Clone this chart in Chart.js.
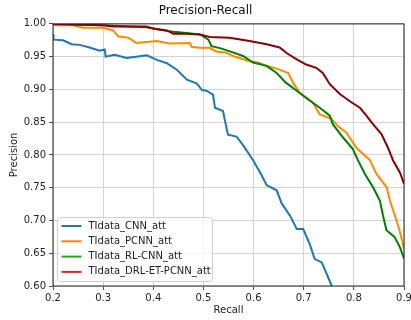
<!DOCTYPE html>
<html>
<head>
<meta charset="utf-8">
<script src="https://cdn.jsdelivr.net/npm/chart.js@4"></script>
<style>
  html, body { margin: 0; padding: 0; background: #fff; }
  #wrap { width: 411px; height: 320px; }
</style>
</head>
<body>
<div id="wrap"><canvas id="myChart" width="411" height="320"></canvas></div>
<script>
// series labels
const labels = ['TIdata_CNN_att', 'TIdata_PCNN_att', 'TIdata_RL-CNN_att', 'TIdata_DRL-ET-PCNN_att'];

// recall / precision
const cnnRecall = [0.2, 0.201, 0.22, 0.237, 0.253, 0.273, 0.293, 0.303, 0.305, 0.323, 0.347, 0.387, 0.407, 0.427, 0.447, 0.467, 0.487, 0.497, 0.506, 0.519, 0.523, 0.539, 0.546, 0.549, 0.566, 0.579, 0.599, 0.616, 0.626, 0.646, 0.656, 0.673, 0.686, 0.699, 0.712, 0.722, 0.736, 0.756];
const cnnPrecision = [0.984, 0.976, 0.975, 0.969, 0.968, 0.964, 0.959, 0.961, 0.950, 0.953, 0.948, 0.952, 0.945, 0.940, 0.930, 0.915, 0.909, 0.899, 0.898, 0.892, 0.872, 0.867, 0.841, 0.831, 0.828, 0.815, 0.792, 0.769, 0.754, 0.746, 0.726, 0.707, 0.687, 0.687, 0.664, 0.641, 0.636, 0.600];

const pcnnRecall = [0.2, 0.24, 0.26, 0.30, 0.32, 0.33, 0.35, 0.366, 0.406, 0.433, 0.473, 0.476, 0.493, 0.512, 0.526, 0.546, 0.559, 0.592, 0.609, 0.626, 0.649, 0.669, 0.679, 0.692, 0.718, 0.732, 0.755, 0.768, 0.785, 0.805, 0.832, 0.845, 0.865, 0.872, 0.885, 0.892, 0.90];
const pcnnPrecision = [0.998, 0.998, 0.994, 0.994, 0.990, 0.981, 0.979, 0.971, 0.974, 0.970, 0.971, 0.965, 0.9635, 0.9635, 0.958, 0.956, 0.951, 0.943, 0.941, 0.936, 0.931, 0.925, 0.910, 0.895, 0.880, 0.862, 0.855, 0.844, 0.834, 0.811, 0.792, 0.771, 0.751, 0.730, 0.700, 0.682, 0.657];

const rlRecall = [0.2, 0.24, 0.30, 0.386, 0.413, 0.44, 0.466, 0.493, 0.51, 0.516, 0.533, 0.553, 0.579, 0.599, 0.626, 0.646, 0.665, 0.686, 0.705, 0.732, 0.752, 0.758, 0.778, 0.798, 0.808, 0.822, 0.838, 0.852, 0.858, 0.865, 0.881, 0.892, 0.90];
const rlPrecision = [1.0, 0.999, 0.998, 0.995, 0.991, 0.988, 0.986, 0.984, 0.976, 0.966, 0.963, 0.958, 0.951, 0.941, 0.936, 0.925, 0.910, 0.898, 0.887, 0.872, 0.860, 0.847, 0.827, 0.809, 0.792, 0.771, 0.751, 0.730, 0.708, 0.685, 0.675, 0.659, 0.642];

const drlRecall = [0.2, 0.30, 0.32, 0.386, 0.40, 0.427, 0.44, 0.466, 0.493, 0.512, 0.552, 0.592, 0.626, 0.652, 0.665, 0.686, 0.705, 0.725, 0.738, 0.752, 0.772, 0.792, 0.812, 0.825, 0.838, 0.855, 0.868, 0.878, 0.892, 0.90];
const drlPrecision = [1.0, 0.998, 0.996, 0.996, 0.993, 0.990, 0.985, 0.985, 0.984, 0.980, 0.979, 0.974, 0.969, 0.964, 0.956, 0.946, 0.938, 0.933, 0.925, 0.908, 0.893, 0.882, 0.872, 0.860, 0.847, 0.832, 0.811, 0.792, 0.773, 0.756];

const lineColors = ['#1f77b4', '#ff8c00', '#008000', '#8b0000'];
const legendColors = ['#1f77b4', '#ff7f0e', '#2ca02c', '#d62728'];

const FONT = 'DejaVu Sans';

function toPoints(xs, ys) {
    return xs.map((x, i) => ({ x: x, y: ys[i] }));
}

// legend box in the lower left of the plot, like matplotlib's loc='lower left'
const boxLegend = {
    id: 'boxLegend',
    afterDraw(chart) {
        const ctx = chart.ctx;
        const area = chart.chartArea;
        const x0 = area.left + 4.5, y0 = area.bottom - 68.5, w = 155, h = 64;
        ctx.save();
        ctx.beginPath();
        ctx.roundRect(x0, y0, w, h, 3);
        ctx.fillStyle = 'rgba(255,255,255,0.8)';
        ctx.fill();
        ctx.strokeStyle = '#d0d0d0';
        ctx.lineWidth = 1;
        ctx.stroke();
        ctx.font = '10px "' + FONT + '"';
        ctx.textBaseline = 'middle';
        chart.data.datasets.forEach((ds, i) => {
            const y = y0 + 8.5 + i * 15.3;
            ctx.beginPath();
            ctx.moveTo(x0 + 4, y);
            ctx.lineTo(x0 + 24, y);
            ctx.strokeStyle = legendColors[i];
            ctx.lineWidth = 2;
            ctx.stroke();
            ctx.fillStyle = '#222';
            ctx.fillText(ds.label, x0 + 31, y);
        });
        ctx.restore();
    }
};

// dark frame around the plot area (spines)
const frame = {
    id: 'frame',
    afterDatasetsDraw(chart) {
        const { left, right, top, bottom } = chart.chartArea;
        const ctx = chart.ctx;
        ctx.save();
        ctx.strokeStyle = '#222';
        ctx.lineWidth = 1;
        ctx.strokeRect(left, top, right - left, bottom - top);
        ctx.restore();
    }
};

const ctx = document.getElementById('myChart').getContext('2d');
const myChart = new Chart(ctx, {
    type: 'line',
    data: {
        datasets: [
            { label: labels[0], data: toPoints(cnnRecall, cnnPrecision), borderColor: lineColors[0], order: 4 },
            { label: labels[1], data: toPoints(pcnnRecall, pcnnPrecision), borderColor: lineColors[1], order: 3 },
            { label: labels[2], data: toPoints(rlRecall, rlPrecision), borderColor: lineColors[2], order: 2 },
            { label: labels[3], data: toPoints(drlRecall, drlPrecision), borderColor: lineColors[3], order: 1 }
        ]
    },
    options: {
        responsive: false,
        animation: false,
        layout: { padding: { right: 0 } },
        elements: {
            point: { radius: 0 },
            line: { borderWidth: 2, tension: 0 }
        },
        plugins: {
            legend: { display: false },
            tooltip: { enabled: false },
            title: {
                display: true,
                text: 'Precision-Recall',
                color: '#111',
                font: { family: FONT, size: 12, weight: 'normal' },
                padding: { top: 4, bottom: 5.5 }
            }
        },
        scales: {
            x: {
                type: 'linear',
                min: 0.2,
                max: 0.9,
                afterFit: s => { s.height = 34; s.paddingRight = 7; },
                border: { display: false },
                grid: { color: '#c8c8c8', lineWidth: 0.8, tickLength: 4, tickColor: '#222' },
                ticks: {
                    stepSize: 0.1,
                    color: '#222',
                    padding: 2,
                    maxRotation: 0,
                    font: { family: FONT, size: 10 },
                    callback: v => v.toFixed(1)
                },
                title: {
                    display: true,
                    text: 'Recall',
                    color: '#222',
                    font: { family: FONT, size: 10 },
                    padding: { top: 0, bottom: 4 }
                }
            },
            y: {
                min: 0.6,
                max: 1.0,
                afterFit: s => { s.width = 53; },
                border: { display: false },
                grid: { color: '#c8c8c8', lineWidth: 0.8, tickLength: 4, tickColor: '#222' },
                ticks: {
                    stepSize: 0.05,
                    color: '#222',
                    padding: 3,
                    font: { family: FONT, size: 10 },
                    callback: v => v.toFixed(2)
                },
                title: {
                    display: true,
                    text: 'Precision',
                    color: '#222',
                    font: { family: FONT, size: 10 },
                    padding: { top: 8, bottom: 8 }
                }
            }
        }
    },
    plugins: [boxLegend, frame]
});
</script>
</body>
</html>
